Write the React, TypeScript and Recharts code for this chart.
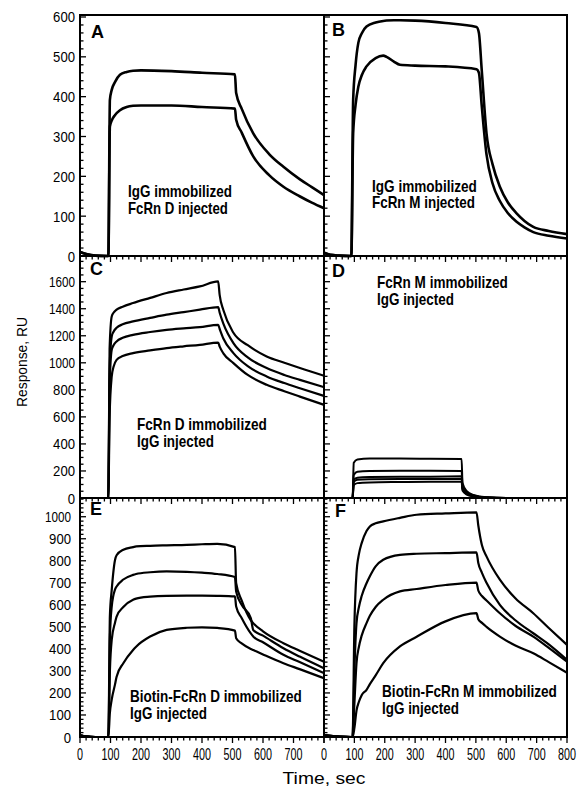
import { useLayoutEffect, useRef, useState } from 'react'
import { LineChart, Line, XAxis, YAxis, ReferenceArea } from 'recharts'

// ---- data (time in sec, response in RU) ----

// A: IgG immobilized, FcRn D injected
const timeA = [0, 20, 50, 90, 93, 98, 104, 115, 131, 153, 174, 200, 300, 400, 508, 512, 530, 568, 620, 667, 720, 760, 800]
const a1 = [10, 5, 1, 0, 0, 392, 417, 437, 455, 462, 465, 466, 464, 460, 456, 409, 370, 308, 256, 224, 193, 173, 153]
const a2 = [10, 5, 1, 0, 0, 325, 340, 354, 366, 374, 377, 378, 378, 374, 370, 342, 310, 250, 203, 174, 150, 134, 120]

// B: IgG immobilized, FcRn M injected
const timeB = [0, 20, 50, 88, 90, 96, 104, 113, 125, 140, 170, 195, 206, 230, 250, 300, 400, 502, 510, 519, 535, 555, 579, 605, 634, 660, 689, 740, 800]
const b1 = [8, 3, 1, 0, 0, 392, 480, 535, 560, 576, 586, 590, 591, 592, 592, 591, 585, 575, 560, 470, 308, 230, 174, 135, 107, 88, 73, 63, 55]
const b2 = [8, 3, 1, 0, 0, 308, 380, 425, 455, 476, 497, 503, 500, 488, 480, 478, 476, 469, 460, 380, 255, 182, 138, 108, 86, 72, 60, 51, 44]

// C: FcRn D immobilized, IgG injected
const timeC = [0, 50, 90, 93, 97, 104, 110, 120, 140, 174, 230, 284, 340, 393, 453, 458, 470, 503, 550, 612, 670, 721, 800]
const c1 = [0, 0, 0, 0, 1100, 1343, 1370, 1393, 1415, 1442, 1480, 1516, 1542, 1565, 1602, 1500, 1390, 1222, 1130, 1047, 1000, 961, 904]
const c2 = [0, 0, 0, 0, 950, 1195, 1230, 1259, 1285, 1306, 1332, 1356, 1375, 1393, 1412, 1370, 1290, 1146, 1040, 961, 910, 874, 820]
const c3 = [0, 0, 0, 0, 820, 1096, 1130, 1158, 1185, 1207, 1228, 1244, 1255, 1264, 1281, 1250, 1180, 1072, 975, 899, 850, 812, 755]
const c4 = [0, 0, 0, 0, 600, 899, 970, 1022, 1050, 1072, 1092, 1109, 1122, 1133, 1150, 1120, 1070, 998, 910, 837, 790, 750, 689]

// D: FcRn M immobilized, IgG injected
const timeD = [0, 50, 92, 94, 98, 110, 150, 250, 350, 453, 456, 470, 492, 535, 600, 700, 800]
const d1 = [0, 0, 0, 0, 260, 285, 292, 292, 290, 288, 110, 50, 22, 5, 0, 0, 0]
const d2 = [0, 0, 0, 0, 170, 195, 200, 202, 202, 200, 90, 40, 18, 4, 0, 0, 0]
const d3 = [0, 0, 0, 0, 135, 150, 155, 158, 158, 160, 75, 35, 15, 3, 0, 0, 0]
const d4 = [0, 0, 0, 0, 120, 135, 138, 140, 140, 140, 65, 30, 13, 3, 0, 0, 0]
const d5 = [0, 0, 0, 0, 95, 110, 115, 118, 120, 120, 55, 25, 11, 2, 0, 0, 0]

// E: Biotin-FcRn D immobilized, IgG injected
const timeE = [0, 20, 50, 90, 93, 98, 104, 115, 120, 142, 174, 184, 230, 284, 350, 400, 450, 508, 512, 530, 560, 568, 600, 667, 720, 800]
const e1 = [8, 3, 0, 0, 0, 550, 668, 805, 825, 850, 862, 865, 868, 870, 872, 875, 877, 862, 698, 620, 530, 517, 480, 426, 392, 342]
const e2 = [8, 3, 0, 0, 0, 450, 592, 670, 683, 715, 736, 740, 748, 752, 750, 746, 740, 726, 660, 600, 540, 486, 460, 403, 365, 312]
const e3 = [8, 3, 0, 0, 0, 300, 441, 520, 547, 590, 623, 628, 637, 641, 642, 642, 641, 638, 592, 540, 470, 456, 430, 373, 340, 290]
const e4 = [8, 3, 0, 0, 0, 110, 170, 240, 274, 335, 395, 410, 456, 486, 496, 498, 495, 483, 448, 425, 400, 395, 375, 335, 308, 267]

// F: Biotin-FcRn M immobilized, IgG injected
const timeF = [0, 20, 50, 90, 94, 100, 107, 115, 124, 140, 151, 170, 195, 250, 305, 400, 502, 508, 520, 535, 579, 630, 689, 740, 800]
const f1 = [10, 5, 2, 0, 0, 500, 744, 830, 880, 935, 956, 970, 979, 995, 1009, 1015, 1020, 960, 870, 820, 714, 630, 562, 495, 418]
const f2 = [10, 5, 2, 0, 0, 300, 517, 590, 640, 698, 730, 775, 805, 827, 832, 835, 838, 790, 745, 700, 600, 530, 471, 420, 350]
const f3 = [10, 5, 2, 0, 0, 150, 335, 410, 460, 517, 550, 590, 623, 661, 672, 690, 701, 665, 640, 620, 562, 505, 456, 405, 342]
const f4 = [10, 5, 2, 0, 0, 40, 120, 160, 190, 214, 240, 280, 335, 411, 455, 525, 562, 535, 518, 500, 456, 415, 380, 340, 292]

// tick labels
const xLabelsLeft = [0, 100, 200, 300, 400, 500, 600, 700]
const xLabelsRight = [0, 100, 200, 300, 400, 500, 600, 700, 800]
const yLabelsTop = [0, 100, 200, 300, 400, 500, 600]
const yLabelsMid = [0, 200, 400, 600, 800, 1000, 1200, 1400, 1600]
const yLabelsBot = [0, 100, 200, 300, 400, 500, 600, 700, 800, 900, 1000]

const range = (a: number, b: number, step: number) => {
  const out: number[] = []
  for (let v = a; v <= b + 1e-9; v += step) out.push(v)
  return out
}

const FONT = "'Liberation Sans', Arial, sans-serif"

// text squeezed horizontally to the width it has in the figure (the figure uses a condensed face)
function FitText({ x, y, w, anchor = 'start', size, bold, rotate, children }: {
  x: number; y: number; w: number; anchor?: string; size: number; bold?: boolean; rotate?: number; children: string
}) {
  const ref = useRef<SVGTextElement>(null)
  const [sx, setSx] = useState(1)
  useLayoutEffect(() => {
    const n = ref.current ? ref.current.getComputedTextLength() : 0
    if (n > 0) setSx(w / n)
  }, [w, children])
  return (
    <text
      ref={ref}
      x={0}
      y={0}
      transform={`translate(${x} ${y})${rotate ? ` rotate(${rotate})` : ''} scale(${sx} 1)`}
      textAnchor={anchor}
      fontFamily={FONT}
      fontSize={size}
      fontWeight={bold ? 'bold' : 'normal'}
      fill="#000"
    >
      {children}
    </text>
  )
}

function XTick(props: any) {
  const { x, y, payload, labels, majorStep } = props
  const v = payload.value
  const major = v % majorStep === 0
  const s = String(v)
  return (
    <g>
      <line x1={x} x2={x} y1={y} y2={y + (major ? 6 : 3.5)} stroke="#000" strokeWidth={1.3} />
      {labels && labels.includes(v) && (
        <FitText x={x} y={y + 23} w={s.length * 6} anchor="middle" size={16}>{s}</FitText>
      )}
    </g>
  )
}

function YTick(props: any) {
  const { x, y, payload, labels, majorStep, gap } = props
  const v = payload.value
  const major = v % majorStep === 0
  const s = String(v)
  return (
    <g>
      <line x1={x} x2={x + (major ? 6 : 3.5)} y1={y} y2={y} stroke="#000" strokeWidth={1.3} />
      {labels && labels.includes(v) && (
        <FitText x={x - gap} y={y + 5.5} w={s.length === 4 ? 26 : s.length * 7.3} anchor="end" size={15}>{s}</FitText>
      )}
    </g>
  )
}

type PanelProps = {
  time: number[]
  series: number[][]
  yMax: number
  yTicks: number[]
  yMajor: number
  yLabels?: number[]
  yGap?: number
  xLabels?: number[]
  plotLeft: number
  plotTop: number
  plotW: number
  plotH: number
  strokeWidth: number
}

function Panel({ time, series, yMax, yTicks, yMajor, yLabels, yGap = 5, xLabels, plotLeft, plotTop, plotW, plotH, strokeWidth }: PanelProps) {
  const yAxisW = yLabels ? 50 : 6
  const xAxisH = xLabels ? 30 : 10
  const padT = 10
  const padR = 10
  const rows = time.map((t, i) => {
    const r: Record<string, number> = { t }
    series.forEach((s, k) => { r['s' + k] = s[i] })
    return r
  })
  return (
    <div style={{ position: 'absolute', left: plotLeft - yAxisW, top: plotTop - padT }}>
      <LineChart
        width={yAxisW + plotW + padR}
        height={padT + plotH + xAxisH}
        data={rows}
        margin={{ top: padT, right: padR, bottom: 0, left: 0 }}
      >
        <XAxis
          dataKey="t"
          type="number"
          domain={[0, 800]}
          ticks={range(0, 800, 20)}
          interval={0}
          height={xAxisH}
          tickSize={0}
          tickMargin={0}
          tickLine={false}
          axisLine={{ stroke: '#000', strokeWidth: 2 }}
          tick={(p: any) => <XTick {...p} labels={xLabels} majorStep={100} />}
        />
        <YAxis
          type="number"
          domain={[0, yMax]}
          ticks={yTicks}
          interval={0}
          width={yAxisW}
          tickSize={0}
          tickMargin={0}
          tickLine={false}
          axisLine={{ stroke: '#000', strokeWidth: 2 }}
          tick={(p: any) => <YTick {...p} labels={yLabels} majorStep={yMajor} gap={yGap} />}
        />
        <ReferenceArea x1={0} x2={800} y1={0} y2={yMax} fill="none" stroke="#000" strokeWidth={2} />
        {series.map((_, k) => (
          <Line
            key={k}
            dataKey={'s' + k}
            type="monotone"
            stroke="#000"
            strokeWidth={strokeWidth}
            dot={false}
            activeDot={false}
            isAnimationActive={false}
          />
        ))}
      </LineChart>
    </div>
  )
}

const LEFT = 80
const MID = 324
const LW = 244
const RW = 243

export default function App() {
  return (
    <div style={{ position: 'absolute', left: 0, top: 0, width: 579, height: 788, background: '#fff' }}>
      <Panel time={timeA} series={[a1, a2]} yMax={605} yTicks={range(0, 600, 20)} yMajor={100} yLabels={yLabelsTop}
        plotLeft={LEFT} plotTop={15} plotW={LW} plotH={241} strokeWidth={2.6} />
      <Panel time={timeB} series={[b1, b2]} yMax={605} yTicks={range(0, 600, 20)} yMajor={100}
        plotLeft={MID} plotTop={15} plotW={RW} plotH={241} strokeWidth={2.6} />
      <Panel time={timeC} series={[c1, c2, c3, c4]} yMax={1790} yTicks={range(0, 1750, 50)} yMajor={200} yLabels={yLabelsMid}
        plotLeft={LEFT} plotTop={256} plotW={LW} plotH={242} strokeWidth={2.2} />
      <Panel time={timeD} series={[d1, d2, d3, d4, d5]} yMax={1790} yTicks={range(0, 1750, 50)} yMajor={200}
        plotLeft={MID} plotTop={256} plotW={RW} plotH={242} strokeWidth={2} />
      <Panel time={timeE} series={[e1, e2, e3, e4]} yMax={1085} yTicks={range(0, 1080, 20)} yMajor={100} yLabels={yLabelsBot} yGap={9}
        xLabels={xLabelsLeft} plotLeft={LEFT} plotTop={498} plotW={LW} plotH={239} strokeWidth={2.2} />
      <Panel time={timeF} series={[f1, f2, f3, f4]} yMax={1085} yTicks={range(0, 1080, 20)} yMajor={100}
        xLabels={xLabelsRight} plotLeft={MID} plotTop={498} plotW={RW} plotH={239} strokeWidth={2.2} />

      {/* panel letters, notes and axis titles */}
      <svg width={579} height={788} style={{ position: 'absolute', left: 0, top: 0, pointerEvents: 'none' }}>
        <g fontFamily={FONT} fontWeight="bold" fontSize={18} fill="#000">
          <text x={91} y={38}>A</text>
          <text x={332} y={36}>B</text>
          <text x={90} y={275}>C</text>
          <text x={332} y={277}>D</text>
          <text x={90} y={515}>E</text>
          <text x={335} y={517}>F</text>
        </g>
        <FitText x={128} y={197} w={104} size={16} bold>IgG immobilized</FitText>
        <FitText x={128} y={214} w={100} size={16} bold>FcRn D injected</FitText>
        <FitText x={372} y={192} w={105} size={16} bold>IgG immobilized</FitText>
        <FitText x={372} y={208} w={103} size={16} bold>FcRn M injected</FitText>
        <FitText x={137} y={430} w={130} size={16} bold>FcRn D immobilized</FitText>
        <FitText x={137} y={447} w={77} size={16} bold>IgG injected</FitText>
        <FitText x={377} y={288} w={131} size={16} bold>FcRn M immobilized</FitText>
        <FitText x={377} y={305} w={77} size={16} bold>IgG injected</FitText>
        <FitText x={130} y={702} w={172} size={16} bold>Biotin-FcRn D immobilized</FitText>
        <FitText x={130} y={719} w={77} size={16} bold>IgG injected</FitText>
        <FitText x={382} y={697} w={175} size={16} bold>Biotin-FcRn M immobilized</FitText>
        <FitText x={382} y={714} w={77} size={16} bold>IgG injected</FitText>
        <FitText x={27} y={362} w={90} anchor="middle" size={15.5} rotate={-90}>Response, RU</FitText>
        <FitText x={324} y={784} w={83} anchor="middle" size={17}>Time, sec</FitText>
      </svg>
    </div>
  )
}
